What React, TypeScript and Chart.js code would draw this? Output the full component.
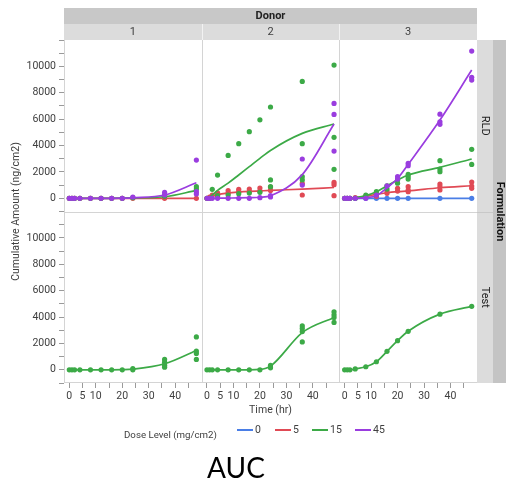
import React, { useEffect, useRef } from 'react';
import { Chart, registerables } from 'chart.js';

Chart.register(...registerables);

// ---------------- data ----------------
const times = [0, 1, 2, 4, 8, 12, 16, 20, 24, 36, 48];
const doseLevels = ['0', '5', '15', '45'];
const doseColors = ['#4a7ee6', '#e04a55', '#3caa47', '#9a3ddf'];
const donors = ['1', '2', '3'];
const formulations = ['RLD', 'Test'];
const yTickLabels = [0, 2000, 4000, 6000, 8000, 10000];
const xTickLabels = [0, 5, 10, 20, 30, 40];

// fitted (smoothed) curves, one value per time point
const fitRLD1_5 = [0, 0, 0, 0, 0, 0, 0, 0, 0, 0, 0];
const fitRLD1_15 = [0, 0, 0, 0, 0, 0, 0, 10, 30, 120, 600];
const fitRLD1_45 = [0, 0, 0, 0, 0, 0, 0, 10, 40, 250, 1180];
const fitRLD2_5 = [0, 80, 160, 280, 400, 470, 520, 560, 600, 700, 820];
const fitRLD2_15 = [0, 100, 250, 600, 1150, 1770, 2400, 3030, 3630, 4920, 5630];
const fitRLD2_45 = [0, 0, 0, 10, 20, 30, 50, 80, 200, 1800, 5630];
const fitRLD3_0 = [0, 0, 0, 0, 0, 0, 0, 0, 0, 0, 0];
const fitRLD3_5 = [0, 0, 10, 50, 150, 300, 420, 500, 560, 800, 950];
const fitRLD3_15 = [0, 0, 10, 50, 200, 500, 950, 1390, 1770, 2350, 2980];
const fitRLD3_45 = [0, 0, 0, 0, 50, 200, 800, 1500, 2570, 5930, 9720];
const fitTest1_15 = [0, 0, 0, 0, 0, 0, 0, 10, 50, 460, 1470];
const fitTest2_15 = [0, 0, 0, 0, 0, 0, 0, 30, 280, 2820, 3970];
const fitTest3_15 = [0, 0, 0, 70, 230, 610, 1400, 2210, 2920, 4220, 4810];

// observed replicates, one list per time point
const obsRLD1_5 = [[0], [0], [0], [0], [0], [0], [0], [0], [0], [0], [0]];
const obsRLD1_15 = [[0], [0], [0], [0], [0], [0], [0], [0], [50], [150, 250], [880, 700]];
const obsRLD1_45 = [[0], [0], [0], [0], [0], [0], [0], [0], [100], [450, 250], [2900, 500, 330]];
const obsRLD2_5 = [[0], [100], [250], [420, 200], [580, 380], [680, 500], [700, 500], [780, 550], [850, 600], [1130, 250], [1210, 1030, 200]];
const obsRLD2_15 = [[0], [0], [680], [1760, 200], [3250, 250], [4140, 350], [5050, 400], [5950, 450], [6920, 1390, 880], [8860, 4140, 1640, 1390], [10100, 4620, 2200]];
const obsRLD2_45 = [[0], [0], [0], [0], [0], [0], [0], [50], [200, 100], [2980, 1000], [7190, 6360, 3580]];
const obsRLD3_0 = [[0], [0], [0], [0], [0], [0], [0], [0], [0], [0], [0]];
const obsRLD3_5 = [[0], [0], [0], [50], [150], [300, 150], [550, 380], [760, 550], [880, 630, 500], [1080, 880, 630], [1230, 930, 760]];
const obsRLD3_15 = [[0], [0], [0], [0], [250], [500], [950, 700], [1390, 1140], [1820, 1640, 1460], [2850, 2220, 2020], [3710, 2570]];
const obsRLD3_45 = [[0], [0], [0], [0], [0], [250], [950], [1640, 1460], [2650, 2470], [6380, 5800, 5610], [11160, 9170, 8960]];
const obsTest1_15 = [[0], [0], [0], [0], [0], [0], [0], [0], [100, 0], [790, 580, 350, 200], [2490, 1420, 1240, 790]];
const obsTest2_15 = [[0], [0], [0], [0], [0], [0], [0], [0], [330, 150], [3330, 3130, 2900, 2110], [4400, 4170, 3970, 3590]];
const obsTest3_15 = [[0], [0], [0], [70], [230], [610], [1400], [2210], [2920], [4220], [4810]];

type Series = { dose: number; fit: number[]; obs: number[][] };
type Panel = { row: number; col: number; series: Series[] };

const panels: Panel[] = [
  { row: 0, col: 0, series: [{ dose: 1, fit: fitRLD1_5, obs: obsRLD1_5 }, { dose: 2, fit: fitRLD1_15, obs: obsRLD1_15 }, { dose: 3, fit: fitRLD1_45, obs: obsRLD1_45 }] },
  { row: 0, col: 1, series: [{ dose: 1, fit: fitRLD2_5, obs: obsRLD2_5 }, { dose: 2, fit: fitRLD2_15, obs: obsRLD2_15 }, { dose: 3, fit: fitRLD2_45, obs: obsRLD2_45 }] },
  { row: 0, col: 2, series: [{ dose: 0, fit: fitRLD3_0, obs: obsRLD3_0 }, { dose: 1, fit: fitRLD3_5, obs: obsRLD3_5 }, { dose: 2, fit: fitRLD3_15, obs: obsRLD3_15 }, { dose: 3, fit: fitRLD3_45, obs: obsRLD3_45 }] },
  { row: 1, col: 0, series: [{ dose: 2, fit: fitTest1_15, obs: obsTest1_15 }] },
  { row: 1, col: 1, series: [{ dose: 2, fit: fitTest2_15, obs: obsTest2_15 }] },
  { row: 1, col: 2, series: [{ dose: 2, fit: fitTest3_15, obs: obsTest3_15 }] },
];

const FONT = "Roboto, 'Noto Sans', sans-serif";
const TEXT = '#404040';

// ---------------- chart config ----------------
function buildDatasets() {
  const list: any[] = [];
  panels.forEach((p) => {
    const xID = 'x' + p.col;
    const yID = 'y' + p.row;
    p.series.forEach((s) => {
      const color = doseColors[s.dose];
      list.push({
        type: 'line',
        label: doseLevels[s.dose],
        xAxisID: xID,
        yAxisID: yID,
        data: times.map((t, i) => ({ x: t, y: s.fit[i] })),
        borderColor: color,
        borderWidth: 1.7,
        pointRadius: 0,
        fill: false,
        cubicInterpolationMode: 'monotone',
      });
      const pts: { x: number; y: number }[] = [];
      s.obs.forEach((reps, i) => reps.forEach((v) => pts.push({ x: times[i], y: v })));
      list.push({
        type: 'scatter',
        label: doseLevels[s.dose],
        xAxisID: xID,
        yAxisID: yID,
        data: pts,
        showLine: false,
        pointRadius: 2.6,
        pointBorderWidth: 0,
        pointBackgroundColor: color,
        backgroundColor: color,
        borderColor: color,
      });
    });
  });
  // first dataset is drawn on top in Chart.js
  return list.reverse();
}

function xScale() {
  return {
    type: 'linear',
    position: 'bottom',
    stack: 'cols',
    stackWeight: 1,
    min: -2,
    max: 50,
    afterFit: (s: any) => {
      s.height = 99;
    },
    afterBuildTicks: (s: any) => {
      const v: { value: number }[] = [];
      for (let t = 0; t <= 45; t += 5) v.push({ value: t });
      s.ticks = v;
    },
    ticks: {
      autoSkip: false,
      maxRotation: 0,
      minRotation: 0,
      padding: 2,
      color: TEXT,
      font: { family: FONT, size: 10.5 },
      callback: (v: number) => (xTickLabels.includes(v) ? String(v) : ''),
    },
    grid: { drawOnChartArea: false, drawTicks: true, tickLength: 5, tickColor: '#9a9a9a' },
    border: { display: false },
  };
}

function yScale() {
  return {
    type: 'linear',
    position: 'left',
    stack: 'rows',
    stackWeight: 1,
    min: -1000,
    max: 12000,
    afterFit: (s: any) => {
      s.width = 64;
    },
    afterBuildTicks: (s: any) => {
      const v: { value: number }[] = [];
      for (let t = -1000; t <= 12000; t += 1000) v.push({ value: t });
      s.ticks = v;
    },
    ticks: {
      autoSkip: false,
      padding: 3,
      color: TEXT,
      font: { family: FONT, size: 10.5 },
      callback: (v: number) => (yTickLabels.includes(v) ? String(v) : ''),
    },
    grid: { drawOnChartArea: false, drawTicks: true, tickLength: 5, tickColor: '#9a9a9a' },
    border: { display: false },
  };
}

const decorPlugin = {
  id: 'decor',
  beforeDraw(chart: any) {
    const ctx = chart.ctx;
    ctx.save();
    ctx.fillStyle = '#ffffff';
    ctx.fillRect(0, 0, chart.width, chart.height);
    ctx.restore();
  },
  afterDraw(chart: any) {
    const ctx = chart.ctx;
    const ca = chart.chartArea;
    const xs = [chart.scales.x0, chart.scales.x1, chart.scales.x2];
    const ys = [chart.scales.y0, chart.scales.y1];
    const left = ca.left, right = ca.right, top = ca.top, bottom = ca.bottom;
    const rowSplit = ys[0].bottom;
    ctx.save();

    // panel separators and frame
    ctx.strokeStyle = '#d4d4d4';
    ctx.lineWidth = 1;
    ctx.beginPath();
    for (let i = 1; i < xs.length; i++) {
      const x = Math.round(xs[i].left) + 0.5;
      ctx.moveTo(x, top - 16);
      ctx.lineTo(x, bottom);
    }
    ctx.moveTo(left, Math.round(rowSplit) + 0.5);
    ctx.lineTo(right, Math.round(rowSplit) + 0.5);
    ctx.moveTo(Math.round(left) + 0.5, top);
    ctx.lineTo(Math.round(left) + 0.5, bottom);
    ctx.moveTo(left, Math.round(bottom) - 0.5);
    ctx.lineTo(right, Math.round(bottom) - 0.5);
    ctx.stroke();

    // top strips
    const bandH = 16;
    ctx.fillStyle = '#c8c8c8';
    ctx.fillRect(left, top - 2 * bandH, right - left, bandH);
    ctx.fillStyle = '#dcdcdc';
    ctx.fillRect(left, top - bandH, right - left, bandH);
    ctx.strokeStyle = '#f2f2f2';
    ctx.beginPath();
    for (let i = 1; i < xs.length; i++) {
      const x = Math.round(xs[i].left) + 0.5;
      ctx.moveTo(x, top - bandH);
      ctx.lineTo(x, top);
    }
    ctx.stroke();
    ctx.fillStyle = '#222';
    ctx.textAlign = 'center';
    ctx.textBaseline = 'middle';
    ctx.font = `bold 11px ${FONT}`;
    ctx.fillText('Donor', (left + right) / 2, top - bandH * 1.5);
    ctx.font = `11px ${FONT}`;
    ctx.fillStyle = TEXT;
    xs.forEach((s, i) => ctx.fillText(donors[i], (s.left + s.right) / 2, top - bandH / 2));

    // right strips
    const stripW = 16;
    ctx.fillStyle = '#dcdcdc';
    ctx.fillRect(right, top, stripW, bottom - top);
    ctx.fillStyle = '#c4c4c4';
    ctx.fillRect(right + stripW, top, chart.width - right - stripW, bottom - top);
    ctx.strokeStyle = '#c8c8c8';
    ctx.beginPath();
    ctx.moveTo(right, Math.round(rowSplit) + 0.5);
    ctx.lineTo(right + stripW, Math.round(rowSplit) + 0.5);
    ctx.stroke();
    ys.forEach((s, i) => {
      ctx.save();
      ctx.translate(right + stripW / 2, (s.top + s.bottom) / 2);
      ctx.rotate(Math.PI / 2);
      ctx.fillStyle = '#222';
      ctx.font = `11px ${FONT}`;
      ctx.fillText(formulations[i], 0, 0);
      ctx.restore();
    });
    ctx.save();
    ctx.translate(right + stripW + (chart.width - right - stripW) / 2, (top + bottom) / 2);
    ctx.rotate(Math.PI / 2);
    ctx.fillStyle = '#111';
    ctx.font = `bold 11px ${FONT}`;
    ctx.fillText('Formulation', 0, 0);
    ctx.restore();

    // y axis title
    ctx.save();
    ctx.translate(16, (top + bottom) / 2);
    ctx.rotate(-Math.PI / 2);
    ctx.fillStyle = TEXT;
    ctx.font = `10.5px ${FONT}`;
    ctx.fillText('Cumulative Amount (ng/cm2)', 0, 0);
    ctx.restore();

    // x axis title
    ctx.fillStyle = TEXT;
    ctx.font = `10.5px ${FONT}`;
    ctx.fillText('Time (hr)', (xs[1].left + xs[1].right) / 2, bottom + 27);

    // legend
    const legY = bottom + 47;
    ctx.textAlign = 'left';
    ctx.font = `9.7px ${FONT}`;
    ctx.fillText('Dose Level (mg/cm2)', 124, legY + 6);
    ctx.font = `10.5px ${FONT}`;
    const legX = [237, 275, 312, 355];
    doseLevels.forEach((d, i) => {
      ctx.strokeStyle = doseColors[i];
      ctx.lineWidth = 2;
      ctx.beginPath();
      ctx.moveTo(legX[i], legY);
      ctx.lineTo(legX[i] + 16, legY);
      ctx.stroke();
      ctx.fillStyle = TEXT;
      ctx.fillText(d, legX[i] + 18, legY);
    });

    // caption
    ctx.textAlign = 'center';
    ctx.fillStyle = '#000';
    ctx.font = `28px Lato, 'Open Sans', sans-serif`;
    ctx.fillText('AUC', 236, 469);

    ctx.restore();
  },
};

export default function App() {
  const ref = useRef<HTMLCanvasElement>(null);
  useEffect(() => {
    document.body.style.margin = '0';
    const chart = new Chart(ref.current as HTMLCanvasElement, {
      type: 'scatter',
      data: { datasets: buildDatasets() },
      options: {
        responsive: false,
        animation: false,
        devicePixelRatio: 1,
        layout: { padding: { top: 40, right: 29, left: 0, bottom: 0 } },
        plugins: { legend: { display: false }, title: { display: false }, tooltip: { enabled: false } },
        scales: {
          x0: xScale(),
          x1: xScale(),
          x2: xScale(),
          y1: yScale(),
          y0: yScale(),
        },
      } as any,
      plugins: [decorPlugin],
    } as any);
    return () => chart.destroy();
  }, []);
  return <canvas ref={ref} width={506} height={482} style={{ display: 'block', width: 506, height: 482 }} />;
}
